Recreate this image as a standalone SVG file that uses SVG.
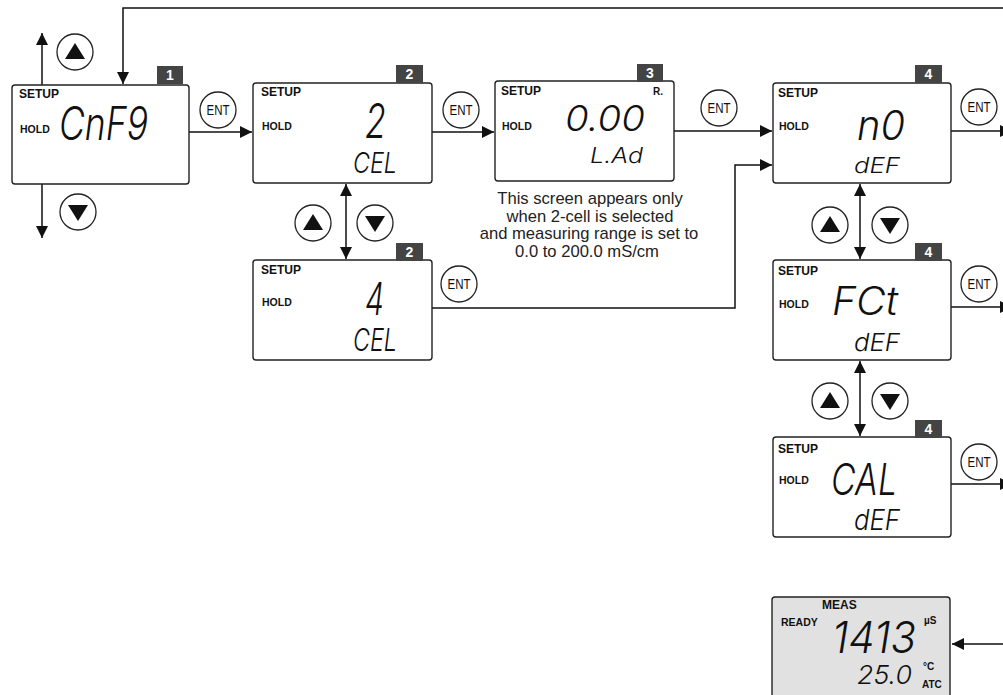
<svg xmlns="http://www.w3.org/2000/svg" width="1003" height="695" viewBox="0 0 1003 695">
<defs>
<style>
.scr{fill:#fff;stroke:#222;stroke-width:1.4}
.meas{fill:#e1e1e1;stroke:#222;stroke-width:1.4}
.badge{fill:#444}
.bt{font-family:"Liberation Sans",Arial,sans-serif;font-weight:bold;font-size:14px;fill:#fff;text-anchor:middle}
.lbl{font-family:"Liberation Sans",Arial,sans-serif;font-weight:bold;font-size:12px;fill:#111}
.hold{font-family:"Liberation Sans",Arial,sans-serif;font-weight:bold;font-size:10.5px;fill:#111}
.sm{font-family:"Liberation Sans",Arial,sans-serif;font-weight:bold;font-size:10px;fill:#111}
.seg{font-family:Inter,"DejaVu Sans",sans-serif;font-weight:300;font-style:oblique;fill:#111}
.btn{fill:#fff;stroke:#222;stroke-width:1.3}
.ent{font-family:"Liberation Sans",Arial,sans-serif;font-size:14px;fill:#111;text-anchor:middle}
.line{fill:none;stroke:#111;stroke-width:1.5}
.note{font-family:"Liberation Sans",Arial,sans-serif;font-size:16.6px;fill:#222;text-anchor:middle}
</style>
<marker id="ah" markerUnits="userSpaceOnUse" markerWidth="13" markerHeight="12" refX="12" refY="6" orient="auto-start-reverse" viewBox="0 0 13 12">
<path d="M0,0 L12,6 L0,12 z" fill="#111"/>
</marker>
<g id="upbtn"><circle class="btn" cx="0" cy="0" r="18"/><path d="M-10,7 L10,7 L0,-9 z" fill="#111"/></g>
<g id="dnbtn"><circle class="btn" cx="0" cy="0" r="18"/><path d="M-10,-7 L10,-7 L0,9 z" fill="#111"/></g>
<g id="entbtn"><circle class="btn" cx="0" cy="0" r="18"/><text class="ent" x="0" y="5" textLength="23" lengthAdjust="spacingAndGlyphs">ENT</text></g>
</defs>

<g id="connectors">
<path class="line" d="M1003,8 H123 V84" marker-end="url(#ah)"/>
<path class="line" d="M42,85 V33" marker-end="url(#ah)"/>
<path class="line" d="M42,184 V238" marker-end="url(#ah)"/>
<path class="line" d="M189,132 H252" marker-end="url(#ah)"/>
<path class="line" d="M432,132 H494" marker-end="url(#ah)"/>
<path class="line" d="M674,131 H772" marker-end="url(#ah)"/>
<path class="line" d="M432,308 H735 V165 H772" marker-end="url(#ah)"/>
<path class="line" d="M346,184 V259" marker-start="url(#ah)" marker-end="url(#ah)"/>
<path class="line" d="M951,131 H1012" marker-end="url(#ah)"/>
<path class="line" d="M860,184 V259" marker-start="url(#ah)" marker-end="url(#ah)"/>
<path class="line" d="M951,307 H1012" marker-end="url(#ah)"/>
<path class="line" d="M860,361 V436" marker-start="url(#ah)" marker-end="url(#ah)"/>
<path class="line" d="M951,484 H1012" marker-end="url(#ah)"/>
<path class="line" d="M1003,644 H952" marker-end="url(#ah)"/>
</g>

<g id="buttons">
<use href="#upbtn" x="75" y="52"/>
<use href="#dnbtn" x="78" y="212"/>
<use href="#upbtn" x="313" y="223"/>
<use href="#dnbtn" x="375" y="223"/>
<use href="#upbtn" x="830" y="225"/>
<use href="#dnbtn" x="890" y="225"/>
<use href="#upbtn" x="830" y="401"/>
<use href="#dnbtn" x="890" y="401"/>
<use href="#entbtn" x="218" y="110"/>
<use href="#entbtn" x="461" y="110"/>
<use href="#entbtn" x="719" y="108"/>
<use href="#entbtn" x="979" y="107"/>
<use href="#entbtn" x="459" y="284"/>
<use href="#entbtn" x="979" y="284"/>
<use href="#entbtn" x="979" y="462"/>
</g>

<g id="screen1">
<rect class="scr" x="12" y="85" width="177" height="99" rx="3"/>
<rect class="badge" x="157" y="66" width="26" height="18"/>
<text class="bt" x="170" y="80">1</text>
<text class="lbl" x="19" y="98">SETUP</text>
<text class="hold" x="20" y="133">HOLD</text>
<text class="seg" x="59" y="140" font-size="46" textLength="89" lengthAdjust="spacingAndGlyphs">CnF9</text>
</g>

<g id="screen2">
<rect class="scr" x="253" y="83" width="179" height="100" rx="3"/>
<rect class="badge" x="396" y="65" width="27" height="18"/>
<text class="bt" x="409.5" y="79">2</text>
<text class="lbl" x="261" y="96">SETUP</text>
<text class="hold" x="262" y="130">HOLD</text>
<text class="seg" x="365" y="138" font-size="48" textLength="21" lengthAdjust="spacingAndGlyphs">2</text>
<text class="seg" x="353" y="173" font-size="29" textLength="44" lengthAdjust="spacingAndGlyphs">CEL</text>
</g>

<g id="screen2b">
<rect class="scr" x="253" y="260" width="179" height="100" rx="3"/>
<rect class="badge" x="396" y="243" width="27" height="18"/>
<text class="bt" x="409.5" y="257">2</text>
<text class="lbl" x="261" y="274">SETUP</text>
<text class="hold" x="262" y="306">HOLD</text>
<text class="seg" x="365" y="315" font-size="45" textLength="19" lengthAdjust="spacingAndGlyphs">4</text>
<text class="seg" x="353" y="351" font-size="31" textLength="44" lengthAdjust="spacingAndGlyphs">CEL</text>
</g>

<g id="screen3">
<rect class="scr" x="495" y="81" width="179" height="100" rx="3"/>
<rect class="badge" x="637" y="64" width="26" height="18"/>
<text class="bt" x="650" y="78">3</text>
<text class="lbl" x="501" y="95">SETUP</text>
<text class="hold" x="502" y="130">HOLD</text>
<text class="sm" x="653" y="95">R.</text>
<text class="seg" x="565" y="131" font-size="36" textLength="80" lengthAdjust="spacingAndGlyphs">0.00</text>
<text class="seg" x="590" y="163" font-size="22" textLength="53" lengthAdjust="spacingAndGlyphs">L.Ad</text>
</g>

<g id="note">
<text class="note" x="590" y="204">This screen appears only</text>
<text class="note" x="590" y="222">when 2-cell is selected</text>
<text class="note" x="589" y="239">and measuring range is set to</text>
<text class="note" x="587" y="257">0.0 to 200.0 mS/cm</text>
</g>

<g id="screen4">
<rect class="scr" x="773" y="83" width="178" height="100" rx="3"/>
<rect class="badge" x="915" y="65" width="27" height="18"/>
<text class="bt" x="928.5" y="79">4</text>
<text class="lbl" x="778" y="97">SETUP</text>
<text class="hold" x="779" y="130">HOLD</text>
<text class="seg" x="857" y="140" font-size="41" textLength="48" lengthAdjust="spacingAndGlyphs">n0</text>
<text class="seg" x="854" y="173" font-size="22" textLength="46" lengthAdjust="spacingAndGlyphs">dEF</text>
</g>

<g id="screen4b">
<rect class="scr" x="773" y="260" width="178" height="100" rx="3"/>
<rect class="badge" x="915" y="243" width="27" height="18"/>
<text class="bt" x="928.5" y="257">4</text>
<text class="lbl" x="778" y="275">SETUP</text>
<text class="hold" x="779" y="308">HOLD</text>
<text class="seg" x="832" y="315" font-size="40" textLength="66" lengthAdjust="spacingAndGlyphs">FCt</text>
<text class="seg" x="854" y="351" font-size="24" textLength="46" lengthAdjust="spacingAndGlyphs">dEF</text>
</g>

<g id="screen4c">
<rect class="scr" x="773" y="437" width="178" height="100" rx="3"/>
<rect class="badge" x="915" y="420" width="27" height="18"/>
<text class="bt" x="928.5" y="434">4</text>
<text class="lbl" x="778" y="453">SETUP</text>
<text class="hold" x="779" y="484">HOLD</text>
<text class="seg" x="831" y="495" font-size="44" textLength="66" lengthAdjust="spacingAndGlyphs">CAL</text>
<text class="seg" x="854" y="530" font-size="28" textLength="46" lengthAdjust="spacingAndGlyphs">dEF</text>
</g>

<g id="measscreen">
<rect class="meas" x="772" y="597" width="178" height="110" rx="3"/>
<text class="lbl" x="822" y="609" font-size="11">MEAS</text>
<text class="hold" x="781" y="626">READY</text>
<text class="seg" x="832" y="653" font-size="44" textLength="84" lengthAdjust="spacingAndGlyphs">1413</text>
<text class="sm" x="924" y="624">µS</text>
<text class="seg" x="857" y="684" font-size="26" textLength="55" lengthAdjust="spacingAndGlyphs">25.0</text>
<text class="sm" x="923" y="670">°C</text>
<text class="sm" x="922" y="688">ATC</text>
</g>
</svg>
